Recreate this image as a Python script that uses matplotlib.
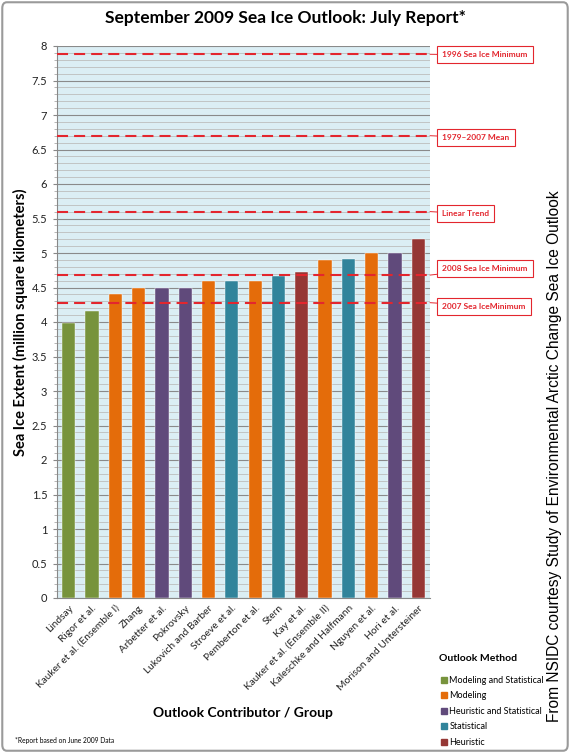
import matplotlib.pyplot as plt
import numpy as np
from matplotlib.lines import Line2D
from matplotlib.patches import FancyBboxPatch
from matplotlib.ticker import MultipleLocator

plt.rcParams['font.family'] = ['Lato', 'DejaVu Sans']

contributors = ['Lindsay', 'Rigor et al.', 'Kauker et al. (Ensemble I)', 'Zhang',
                'Arbetter et al.', 'Pokrovsky', 'Lukovich and Barber', 'Stroeve et al.',
                'Pemberton et al.', 'Stern', 'Kay et al.', 'Kauker et al. (Ensemble II)',
                'Kaleschke and Halfmann', 'Nguyen et al.', 'Hori et al.',
                'Morison and Untersteiner']
extent = [3.99, 4.16, 4.40, 4.50, 4.50, 4.50, 4.60, 4.60,
          4.60, 4.67, 4.73, 4.90, 4.92, 5.00, 5.00, 5.20]
method = ['Modeling and Statistical', 'Modeling and Statistical', 'Modeling', 'Modeling',
          'Heuristic and Statistical', 'Heuristic and Statistical', 'Modeling', 'Statistical',
          'Modeling', 'Statistical', 'Heuristic', 'Modeling',
          'Statistical', 'Modeling', 'Heuristic and Statistical', 'Heuristic']

methods = ['Modeling and Statistical', 'Modeling', 'Heuristic and Statistical',
           'Statistical', 'Heuristic']
method_colors = ['#77933C', '#E46C0A', '#604A7B', '#31849B', '#953735']

ref_labels = ['1996 Sea Ice Minimum', '1979\u20132007 Mean', 'Linear Trend',
              '2008 Sea Ice Minimum', '2007 Sea IceMinimum']
ref_values = [7.88, 6.70, 5.60, 4.68, 4.28]

# where the label boxes sit (data y) - a couple are nudged off their line
box_y = [7.87, 6.67, 5.57, 4.77, 4.23]

red = '#E3262E'
cmap = dict(zip(methods, method_colors))

fig = plt.figure(figsize=(5.7, 7.53), dpi=100)
ax = fig.add_axes([57 / 570, 1 - 598 / 753, 373 / 570, 552 / 753])
ax.set_facecolor('#DBEEF4')

x = range(len(contributors))
ax.bar(x, extent, width=0.57, color=[cmap[m] for m in method], zorder=3,
       edgecolor='#ffffff', linewidth=0.3)

yt = np.arange(0, 8.01, 0.5)
ax.set_yticks(yt)
ax.set_yticklabels(['{:g}'.format(v) for v in yt])
ax.yaxis.set_minor_locator(MultipleLocator(0.1))
ax.set_xlim(-0.5, len(contributors) - 0.5)
ax.set_ylim(0, 8)
ax.grid(which='major', axis='y', color='#8a8a8a', lw=0.8, zorder=1)
ax.grid(which='minor', axis='y', color='#bdbdbd', lw=0.6, zorder=1)
ax.set_axisbelow(True)

ax.set_xticks(list(x))
ax.set_xticklabels(contributors, rotation=45, ha='right', rotation_mode='anchor',
                   fontsize=7.4, color='#222222')
ax.tick_params(axis='x', length=0, pad=4)
ax.tick_params(axis='y', which='major', length=3, color='#888888', labelsize=8,
               labelcolor='#222222', pad=4)
ax.tick_params(axis='y', which='minor', length=2, color='#aaaaaa')
for s in ['top', 'right']:
    ax.spines[s].set_visible(False)
for s in ['left', 'bottom']:
    ax.spines[s].set_color('#888888')
    ax.spines[s].set_linewidth(0.8)

for lab, val, by in zip(ref_labels, ref_values, box_y):
    ax.axhline(val, color=red, lw=1.5, dashes=(5.3, 2.9), zorder=4)
    ax.annotate(lab, xy=(1.0, val), xycoords=('axes fraction', 'data'),
                xytext=(1.033, by), textcoords=('axes fraction', 'data'),
                ha='left', va='center', fontsize=6, fontweight='bold', color=red,
                annotation_clip=False,
                bbox=dict(boxstyle='square,pad=0.6', fc='white', ec=red, lw=0.8),
                arrowprops=dict(arrowstyle='-', color=red, lw=0.7,
                                shrinkA=0, shrinkB=0))

fig.text(0.5, 1 - 18 / 753, 'September 2009 Sea Ice Outlook: July Report*',
         ha='center', va='center', fontsize=12.5, fontweight='bold')
fig.text(20 / 570, 1 - 322 / 753, 'Sea Ice Extent (million square kilometers)',
         rotation=90, ha='center', va='center', fontsize=10.5, fontweight='bold')
fig.text(243 / 570, 1 - 713 / 753, 'Outlook Contributor / Group',
         ha='center', va='center', fontsize=10, fontweight='bold')
fig.text(15 / 570, 1 - 740 / 753, '*Report based on June 2009 Data',
         ha='left', va='center', fontsize=4.8)
fig.text(555 / 570, 1 - 456 / 753,
         'From NSIDC courtesy Study of Environmental Arctic Change Sea Ice Outlook',
         rotation=90, ha='center', va='center', fontsize=11.2,
         family='Liberation Sans')

handles = [Line2D([], [], marker='s', ls='', color=c, markersize=4.5)
           for c in method_colors]
leg = fig.legend(handles, methods, title='Outlook Method', loc='upper left',
                 bbox_to_anchor=(433 / 570, 1 - 648 / 753), frameon=False,
                 fontsize=6.5, labelspacing=0.72, handletextpad=0.1,
                 handlelength=1.0, alignment='left', borderaxespad=0.3,
                 title_fontproperties={'weight': 'bold', 'size': 7.5})
leg._legend_box.sep = 9

fig.patches.append(FancyBboxPatch((0.004, 0.003), 0.992, 0.994,
                                  boxstyle='round,pad=0,rounding_size=0.008',
                                  transform=fig.transFigure, fc='none',
                                  ec='#9a9a9a', lw=1.5))

fig.savefig('out.png', dpi=100)
